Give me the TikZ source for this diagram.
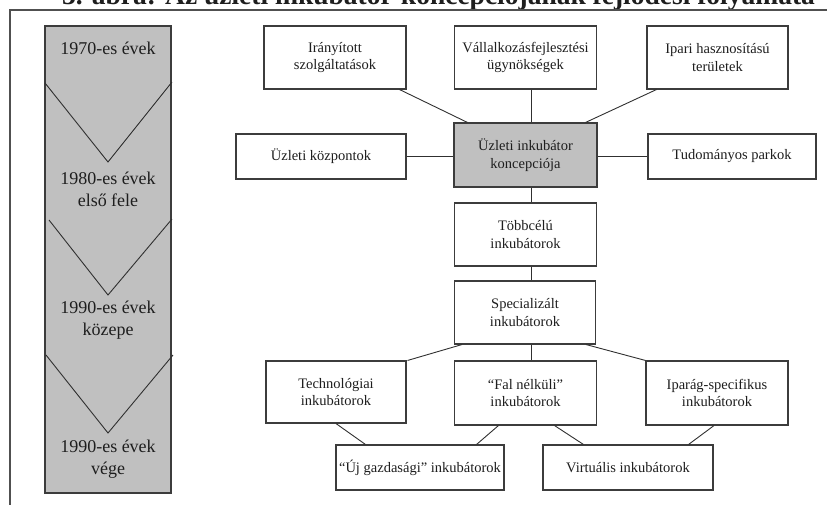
\documentclass[tikz,border=0pt]{standalone}
\usepackage{fontspec}
\setmainfont{Liberation Serif}
\usetikzlibrary{calc}
\definecolor{boxline}{HTML}{3C3C3C}
\definecolor{linkcol}{HTML}{303030}
\definecolor{txt}{HTML}{1E1E1E}
\definecolor{conceptgrey}{HTML}{C0C0C0}
\definecolor{framecol}{HTML}{505050}
\begin{document}
\begin{tikzpicture}[x=1pt,y=-1pt,
  box/.style={draw=boxline, line width=1.1pt, fill=white, align=center,
    inner sep=0pt, text=txt, font=\fontsize{14.5}{17.5}\selectfont},
  greybox/.style={box, fill=conceptgrey},
  link/.style={draw=linkcol, line width=0.9pt},
  chevron/.style={draw=linkcol, line width=0.9pt},
  era/.style={align=center, inner sep=0pt, text=txt,
    font=\fontsize{18}{22}\selectfont},
]
\useasboundingbox (0,0) rectangle (827,504);
\clip (0,0) rectangle (827,504);

% caption, cut by the upper edge
\node[anchor=base, inner sep=0pt, text=txt,
  font=\bfseries\fontsize{27.5}{30}\selectfont] (title) at (438.5,4)
  {3. ábra: Az üzleti inkubátor-koncepciójának fejlődési folyamata};

% outer frame
\draw[draw=framecol, line width=1.4pt] (10,510) -- (10,10) -- (830,10);

% time line on the left
\node[draw=boxline, fill=conceptgrey, line width=1.1pt, inner sep=0pt,
  minimum width=126pt, minimum height=467pt] (timeline) at (108,259.5) {};
\draw[chevron] (45,83) -- (108,162) -- (172,82);
\draw[chevron] (49,220) -- (108,295) -- (172,219);
\draw[chevron] (46,355) -- (108,433) -- (173,355);
\node[era] (e70) at (108,48) {1970-es évek};
\node[era] (e80) at (108,189) {1980-es évek\\első fele};
\node[era] (e90a) at (108,320.5) {1990-es évek\\közepe};
\node[era] (e90b) at (108,459) {1990-es évek\\vége};

% upper row
\node[box, minimum width=142pt, minimum height=63pt] (irany) at (335,57.5)
  {Irányított\\szolgáltatások};
\node[box, minimum width=142pt, minimum height=63pt] (vall) at (525.5,57.5)
  {Vállalkozásfejlesztési\\ügynökségek};
\node[box, minimum width=141pt, minimum height=63pt] (ipari) at (717.5,57.5)
  {Ipari hasznosítású\\területek};

% middle row
\node[box, minimum width=170pt, minimum height=45pt] (kozp) at (321,156.5)
  {Üzleti központok};
\node[greybox, minimum width=143pt, minimum height=64pt] (concept) at (525.5,155)
  {Üzleti inkubátor\\koncepciója};
\node[box, minimum width=168pt, minimum height=45pt] (tud) at (732,156.5)
  {Tudományos parkok};

% central column
\node[box, minimum width=142pt, minimum height=63pt] (tobb) at (525.5,234.5)
  {Többcélú\\inkubátorok};
\node[box, minimum width=141pt, minimum height=63pt] (spec) at (525,312.5)
  {Specializált\\inkubátorok};

% lower row
\node[box, minimum width=140pt, minimum height=62pt] (tech) at (336,392)
  {Technológiai\\inkubátorok};
\node[box, minimum width=142pt, minimum height=64pt] (fal) at (525.5,393)
  {“Fal nélküli”\\inkubátorok};
\node[box, minimum width=142pt, minimum height=64pt] (iparag) at (717,393)
  {Iparág-specifikus\\inkubátorok};

% bottom row
\node[box, minimum width=168pt, minimum height=45pt] (uj) at (420,467.5)
  {“Új gazdasági” inkubátorok};
\node[box, minimum width=170pt, minimum height=45pt] (virt) at (628,467.5)
  {Virtuális inkubátorok};

% connectors
\draw[link] ([xshift=-7pt]irany.south east) -- ([xshift=14pt]concept.north west);
\draw[link] ([xshift=5.5pt]vall.south) -- ([xshift=5.5pt]concept.north);
\draw[link] ([xshift=10pt]ipari.south west) -- ([xshift=-12pt]concept.north east);
\draw[link] (kozp.east) -- (kozp.east -| concept.west);
\draw[link] (tud.west -| concept.east) -- (tud.west);
\draw[link] ([xshift=5.5pt]concept.south) -- ([xshift=5.5pt]tobb.north);
\draw[link] ([xshift=5.5pt]tobb.south) -- ([xshift=6pt]spec.north);
\draw[link] ([xshift=6pt]spec.south) -- ([xshift=5.5pt]fal.north);
\draw[link] ([xshift=8pt]spec.south west) -- ([xshift=1pt]tech.north east);
\draw[link] ([xshift=-10pt]spec.south east) -- (iparag.north west);
\draw[link] (tech.south) -- ([xshift=30pt]uj.north west);
\draw[link] ([xshift=44.5pt]fal.south west) -- ([xshift=-28pt]uj.north east);
\draw[link] ([xshift=-42.5pt]fal.south east) -- ([xshift=41pt]virt.north west);
\draw[link] ([xshift=-3pt]iparag.south) -- ([xshift=-25pt]virt.north east);
\end{tikzpicture}
\end{document}
